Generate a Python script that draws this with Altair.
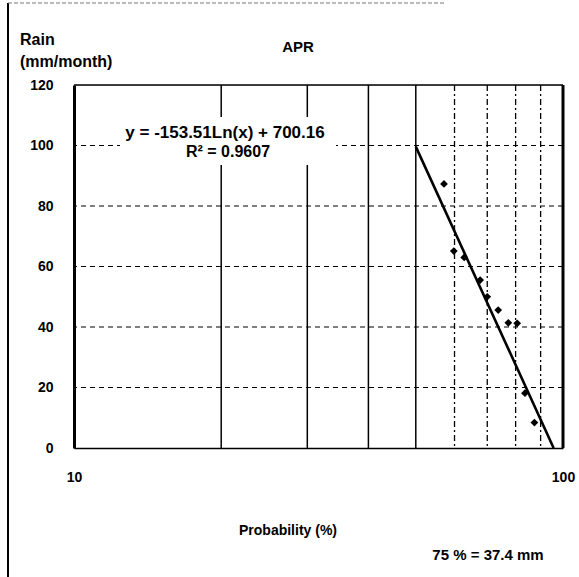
import math
import altair as alt
import pandas as pd

# Non-exceedance probability (%) and April rainfall (mm/month)
prob = [57.1, 59.8, 62.8, 67.7, 70.0, 73.7, 77.3, 80.6, 83.6, 87.4]
rain = [87.3, 65.1, 63.0, 55.5, 50.0, 45.6, 41.4, 41.2, 18.1, 8.4]

# Logarithmic trend line y = a*Ln(x) + b
coef_a = -153.51
coef_b = 700.16
r_squared = 0.9607
fit_from = 50.0

# Gridline positions
x_grid_solid = [20, 30, 40, 50]
x_grid_dashed = [60, 70, 80, 90]
y_grid = [20, 40, 60, 80, 100]
y_ticks = [0, 20, 40, 60, 80, 100, 120]
x_ticks = [10, 100]

FONT = "Liberation Sans"
W, H = 489, 363

pts = pd.DataFrame({"prob": prob, "rain": rain})
fit_to = math.exp(-coef_b / coef_a)  # where the trend reaches 0 mm
fit = pd.DataFrame({
    "prob": [fit_from, fit_to],
    "rain": [coef_a * math.log(fit_from) + coef_b, coef_a * math.log(fit_to) + coef_b],
})

xs = alt.Scale(type="log", domain=[10, 100], nice=False)
ys = alt.Scale(domain=[0, 120], nice=False)

# One axis definition per direction, shared by every layer
x_axis = alt.Axis(
    values=x_ticks, format="d", grid=False, ticks=False, labelFlush=False,
    domainColor="black", domainWidth=1.5, labelPadding=22,
    labelFont=FONT, labelFontSize=14, labelFontWeight="bold",
    labelColor="black", title=None)
y_axis = alt.Axis(
    values=y_ticks, grid=False, ticks=False,
    domainColor="black", domainWidth=3, labelPadding=21,
    labelFont=FONT, labelFontSize=14, labelFontWeight="bold",
    labelColor="black", title=None)


def X(field):
    return alt.X(field, scale=xs, axis=x_axis, title=None)


def Y(field):
    return alt.Y(field, scale=ys, axis=y_axis, title=None)


vgrid_solid = alt.Chart(pd.DataFrame({"g": x_grid_solid})).mark_rule(
    color="black", strokeWidth=1.5
).encode(x=X("g:Q"))

vgrid_dashed = alt.Chart(pd.DataFrame({"g": x_grid_dashed})).mark_rule(
    color="black", strokeWidth=1.3, strokeDash=[6, 3, 2, 3]
).encode(x=X("g:Q"))

hgrid = alt.Chart(pd.DataFrame({"g": y_grid})).mark_rule(
    color="black", strokeWidth=1.1, strokeDash=[5, 4]
).encode(y=Y("g:Q"))

# White backing for the equation label
label_box = alt.Chart(pd.DataFrame({"k": [0]})).mark_rect(color="white").encode(
    x=alt.value(46), x2=alt.value(262), y=alt.value(32), y2=alt.value(80)
)

trend = alt.Chart(fit).mark_line(color="black", strokeWidth=2.6).encode(
    x=X("prob:Q"), y=Y("rain:Q"),
)

points = alt.Chart(pts).mark_point(
    shape="diamond", filled=True, color="black", size=60, opacity=1
).encode(x=X("prob:Q"), y=Y("rain:Q"))

# Frame of the plot area: thin top, heavy right
top_border = alt.Chart(pd.DataFrame({"g": [120]})).mark_rule(
    color="black", strokeWidth=1.5
).encode(y=Y("g:Q"))
right_border = alt.Chart(pd.DataFrame({"g": [100]})).mark_rule(
    color="black", strokeWidth=3
).encode(x=X("g:Q"))

# Outer chart-area edge on the left and top
outer_left = alt.Chart(pd.DataFrame({"k": [0]})).mark_rule(
    color="black", strokeWidth=2
).encode(x=alt.value(-66), y=alt.value(-82), y2=alt.value(492))
outer_top = alt.Chart(pd.DataFrame({"k": [0]})).mark_rule(
    color="#777777", strokeWidth=1, strokeDash=[4, 2]
).encode(x=alt.value(-66), x2=alt.value(370), y=alt.value(-82))


def label(text, x, y, size=12, align="center"):
    return alt.Chart(pd.DataFrame({"t": [text]})).mark_text(
        font=FONT, fontSize=size, fontWeight="bold", color="black",
        align=align, baseline="middle"
    ).encode(x=alt.value(x), y=alt.value(y), text="t:N")


eq_text = f"y = {coef_a:.2f}Ln(x) + {coef_b:.2f}"
r2_text = f"R\u00b2 = {r_squared:.4f}"

texts = [
    label("APR", 224, -38, 15),
    label("Rain", -54, -45, 16, "left"),
    label("(mm/month)", -54, -23, 16, "left"),
    label(eq_text, 151, 48, 17),
    label(r2_text, 154, 67, 16),
    label("Probability (%)", 214, 446, 14),
    label("75 % = 37.4 mm", 414, 470, 15),
]

chart = alt.layer(
    vgrid_solid, vgrid_dashed, hgrid, label_box, trend, points,
    top_border, right_border, outer_left, outer_top, *texts
).properties(
    width=W, height=H,
    autosize=alt.AutoSizeParams(type="none"),
    padding={"left": 74, "top": 85, "right": 16, "bottom": 129},
).configure_view(stroke=None).configure(background="white")

chart.save("out.html", embed_options={"renderer": "svg", "actions": False})
